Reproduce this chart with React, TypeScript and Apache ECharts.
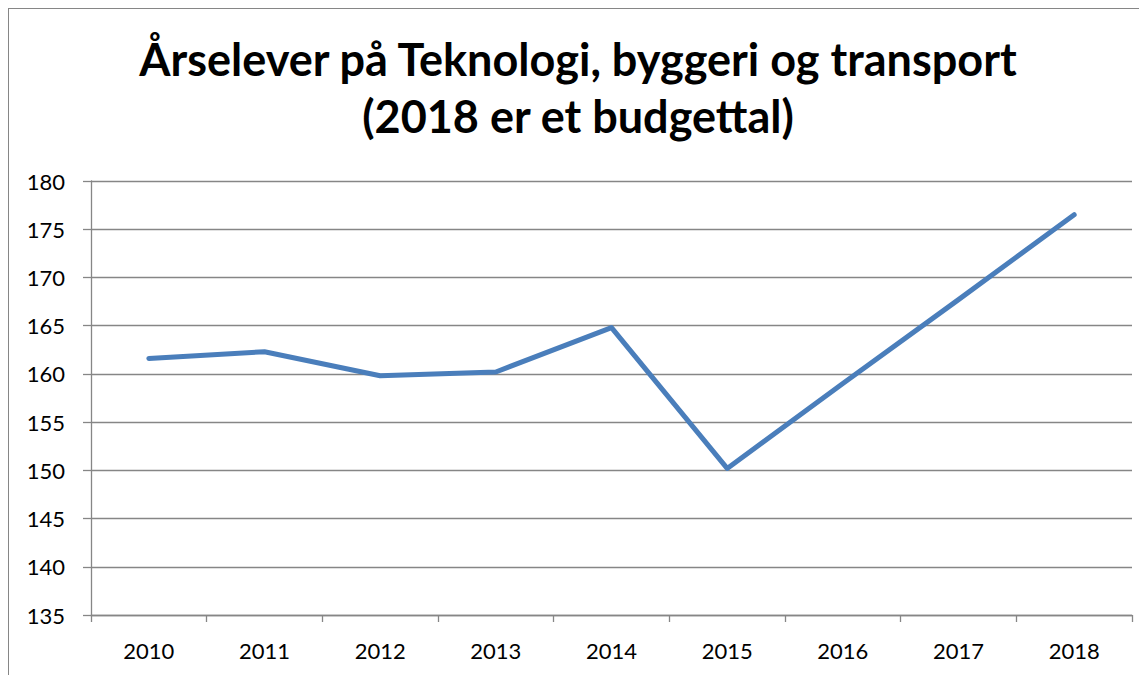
import React, { useEffect, useRef } from "react";
import * as echarts from "echarts";

const titleText = "Årselever på Teknologi, byggeri og transport\n(2018 er et budgettal)";
const years = ["2010", "2011", "2012", "2013", "2014", "2015", "2016", "2017", "2018"];
const students = [161.6, 162.3, 159.8, 160.2, 164.8, 150.2, 159.0, 167.7, 176.5];
const yMin = 135;
const yMax = 180;
const yStep = 5;

export default function App() {
  const ref = useRef<HTMLDivElement>(null);
  useEffect(() => {
    if (!ref.current) return;
    const chart = echarts.init(ref.current, undefined, { renderer: "svg" });
    const gray = "#868686";
    chart.setOption({
      animation: false,
      backgroundColor: "#ffffff",
      title: {
        text: titleText,
        left: "center",
        top: 16,
        padding: [5, 5, 5, 17],
        textStyle: {
          fontFamily: "Lato",
          fontWeight: "bold",
          fontSize: 45,
          lineHeight: 57,
          color: "#000000",
        },
      },
      grid: { left: 82, top: 172, right: 15, bottom: 60, containLabel: false },
      xAxis: {
        type: "category",
        data: years,
        boundaryGap: true,
        axisLine: { show: true, lineStyle: { color: gray, width: 1.3 } },
        axisTick: { show: true, length: 7, lineStyle: { color: gray, width: 1.3 }, alignWithLabel: false },
        axisLabel: { color: "#000", fontFamily: "Lato", fontSize: 22, margin: 24 },
        splitLine: { show: false },
      },
      yAxis: {
        type: "value",
        min: yMin,
        max: yMax,
        interval: yStep,
        axisLine: { show: true, lineStyle: { color: gray, width: 1.3 } },
        axisTick: { show: true, length: 8, lineStyle: { color: gray, width: 1.3 } },
        axisLabel: { color: "#000", fontFamily: "Lato", fontSize: 22, margin: 26 },
        splitLine: { show: true, lineStyle: { color: gray, width: 1.3 } },
      },
      series: [
        {
          type: "line",
          data: students,
          showSymbol: false,
          symbol: "none",
          lineStyle: { color: "#4a7ebb", width: 5, cap: "round", join: "round" },
          itemStyle: { color: "#4a7ebb" },
        },
      ],
    });
    return () => chart.dispose();
  }, []);
  return (
    <div
      ref={ref}
      style={{
        width: 1138,
        height: 666,
        borderTop: "1px solid #868686",
        borderLeft: "1px solid #868686",
        boxSizing: "content-box",
      }}
    />
  );
}
